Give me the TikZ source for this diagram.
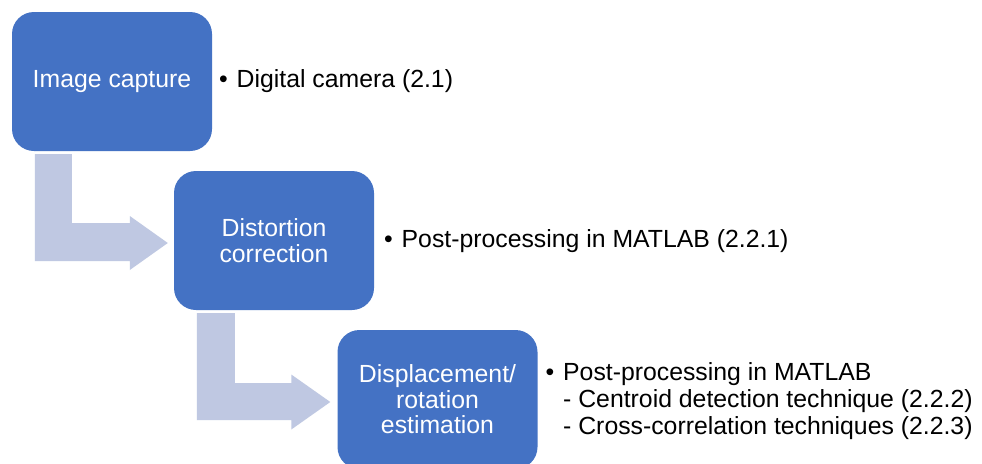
\documentclass[tikz,border=0pt]{standalone}
\usepackage{fontspec}
\setmainfont{Liberation Sans}
\usetikzlibrary{calc}
\definecolor{boxblue}{HTML}{4472C4}
\definecolor{arrowblue}{HTML}{BFC8E2}
\tikzset{
  stagebox/.style={fill=boxblue, draw=none, rounded corners=22pt, minimum width=200pt, minimum height=139pt, inner sep=0pt, align=center, text=white, font=\fontsize{24.8}{25.5}\selectfont},
  bullettext/.style={anchor=base west, inner sep=0pt, text=black, font=\fontsize{24.8}{27}\selectfont},
  bentarrow/.style={fill=arrowblue, draw=none}
}
\newcommand{\bul}{\makebox[17.5pt][l]{\textbullet}}
\begin{document}
\begin{tikzpicture}[x=1pt,y=-1pt]
\path[use as bounding box, clip] (0,0) rectangle (982,463);
\fill[white] (0,0) rectangle (982,463);
% stage boxes
\node[stagebox] (b1) at (112,81.5) {Image capture};
\node[stagebox] (b2) at (274,240.5) {Distortion\\correction};
\node[stagebox] (b3) at (437.5,399.5) {Displacement/\\rotation\\estimation};
% bent arrows
\coordinate (a1s) at ($(b1.south west)+(23,3)$);
\coordinate (a1t) at ($(b2.west)+(-6,2.5)$);
\fill[bentarrow] let \p1=(a1s), \p2=(a1t) in
  (\x1,\y1) -- (\x1+37pt,\y1) -- (\x1+37pt,\y2+20pt) -- (\x2-38pt,\y2+20pt)
  -- (\x2-38pt,\y2+27pt) -- (\x2,\y2) -- (\x2-38pt,\y2-27pt) -- (\x2-38pt,\y2-18pt)
  -- (\x1,\y2-18pt) -- cycle;
\coordinate (a2s) at ($(b2.south west)+(23,3)$);
\coordinate (a2t) at ($(b3.west)+(-7,2.5)$);
\fill[bentarrow] let \p1=(a2s), \p2=(a2t) in
  (\x1,\y1) -- (\x1+38pt,\y1) -- (\x1+38pt,\y2+19pt) -- (\x2-39pt,\y2+19pt)
  -- (\x2-39pt,\y2+27.5pt) -- (\x2,\y2) -- (\x2-39pt,\y2-27.5pt) -- (\x2-39pt,\y2-18pt)
  -- (\x1,\y2-18pt) -- cycle;
% descriptions
\node[bullettext] (t1) at (219,87.3) {\bul Digital camera (2.1)};
\node[bullettext] (t2) at (384,247.3) {\bul Post-processing in MATLAB (2.2.1)};
\node[bullettext] (t3a) at (545.5,380.7) {\bul Post-processing in MATLAB};
\node[bullettext] (t3b) at (545.5,407.7) {\hspace*{17.5pt}- Centroid detection technique (2.2.2)};
\node[bullettext] (t3c) at (545.5,434.3) {\hspace*{17.5pt}- Cross-correlation techniques (2.2.3)};
\end{tikzpicture}
\end{document}
